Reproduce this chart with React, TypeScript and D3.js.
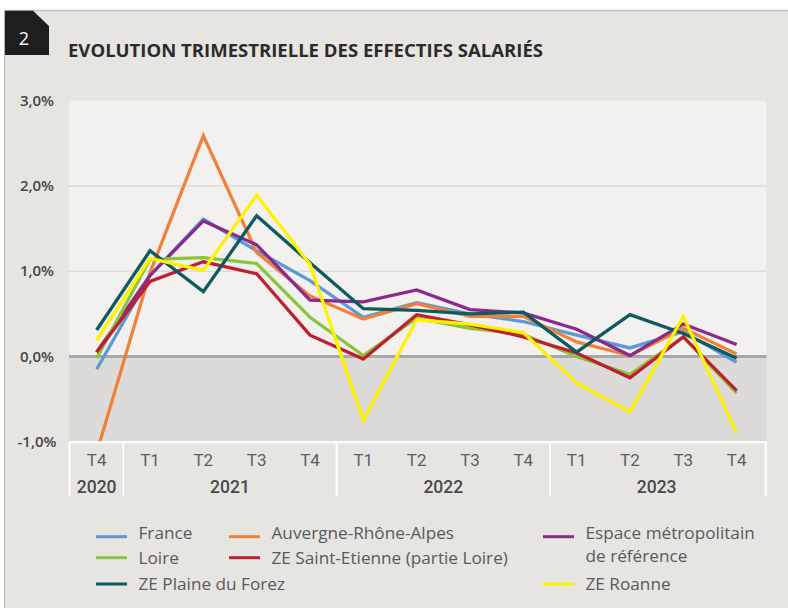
import React from "react";
import * as d3 from "d3";

const quarters = ["T4", "T1", "T2", "T3", "T4", "T1", "T2", "T3", "T4", "T1", "T2", "T3", "T4"];
const years = ["2020", "2021", "2022", "2023"];
const yearSpans = [1, 4, 4, 4];
const yTicks = [-1, 0, 1, 2, 3];

const france = [-0.15, 0.95, 1.61, 1.24, 0.89, 0.46, 0.63, 0.5, 0.41, 0.25, 0.1, 0.29, -0.07];
const auvergne = [-1.13, 0.98, 2.59, 1.22, 0.71, 0.44, 0.62, 0.47, 0.47, 0.17, 0.01, 0.33, 0.03];
const espace = [0.05, 0.95, 1.59, 1.31, 0.66, 0.64, 0.78, 0.55, 0.51, 0.32, 0.01, 0.38, 0.14];
const loire = [-0.02, 1.14, 1.16, 1.09, 0.46, 0.01, 0.45, 0.33, 0.26, 0.0, -0.21, 0.23, -0.43];
const saintEtienne = [0.05, 0.88, 1.11, 0.97, 0.25, -0.03, 0.49, 0.37, 0.23, 0.04, -0.25, 0.23, -0.4];
const plaine = [0.31, 1.24, 0.76, 1.65, 1.1, 0.56, 0.54, 0.5, 0.52, 0.05, 0.49, 0.27, -0.02];
const roanne = [0.19, 1.15, 1.01, 1.89, 1.08, -0.75, 0.43, 0.38, 0.28, -0.31, -0.65, 0.47, -0.9];

const seriesNames = [
  "France",
  "Auvergne-Rhône-Alpes",
  "Espace métropolitain de référence",
  "Loire",
  "ZE Saint-Etienne (partie Loire)",
  "ZE Plaine du Forez",
  "ZE Roanne",
];
const seriesValues = [france, auvergne, espace, loire, saintEtienne, plaine, roanne];
const seriesColors = ["#5b9bd5", "#f0813a", "#8b2a8c", "#8dc43f", "#c01f2f", "#0d5b5f", "#fff200"];
const legendLines = [
  ["France"],
  ["Auvergne-Rhône-Alpes"],
  ["Espace métropolitain", "de référence"],
  ["Loire"],
  ["ZE Saint-Etienne (partie Loire)"],
  ["ZE Plaine du Forez"],
  ["ZE Roanne"],
];

// layout (styling): legend column/row slot for each series
const legendSlots = [
  [0, 0],
  [1, 0],
  [2, 0],
  [0, 1],
  [1, 1],
  [0, 2],
  [2, 2],
];
const legendColX = [96, 229, 543];
const legendRowText = [539, 564, 590];
const legendRowSwatch = [536.7, 557.7, 584];

const W = 788;
const H = 608;
const plotL = 69;
const plotR = 766.5;
const plotT = 100.7;
const plotB = 441.7;

export default function App() {
  const x = d3.scaleBand<number>().domain(d3.range(quarters.length)).range([70, 763.3]).padding(0);
  const cx = (i: number) => (x(i) as number) + x.bandwidth() / 2;
  const y = d3.scaleLinear().domain([-1, 3]).range([plotB, plotT]);
  const line = d3
    .line<number>()
    .x((_, i) => cx(i))
    .y((v) => y(v));
  const fmt = (v: number) => d3.format(".1f")(v).replace(".", ",").replace("−", "-") + "%";

  let acc = 0;
  const yearBounds = yearSpans.map((s) => {
    const start = acc;
    acc += s;
    return [start, acc];
  });
  const edge = (i: number) =>
    i < quarters.length ? (x(i) as number) : (x(quarters.length - 1) as number) + x.bandwidth();

  return (
    <svg
      width={W}
      height={H}
      style={{ position: "absolute", left: 0, top: 0 }}
      fontFamily="'Open Sans', sans-serif"
    >
      <defs>
        <clipPath id="plotclip">
          <rect x={plotL} y={plotT} width={plotR - plotL} height={plotB - plotT} />
        </clipPath>
      </defs>
      <rect x={0} y={0} width={W} height={H} fill="#ffffff" />
      <rect x={4} y={10} width={W - 4} height={H - 10} fill="#e6e5e2" />
      <line x1={4} x2={W} y1={10.5} y2={10.5} stroke="#c3c3c3" strokeWidth={1.5} />
      <line x1={4.5} x2={4.5} y1={10} y2={H} stroke="#b5b5b5" strokeWidth={1} />

      {/* number box */}
      <path d="M5,10.7 L33,10.7 L49,26 L49,55 L5,55 Z" fill="#1e1e1e" />
      <text x={24} y={45} fill="#ffffff" fontSize={18} textAnchor="middle">
        2
      </text>
      <text
        x={68}
        y={56.7}
        fontSize={18}
        fontWeight={700}
        fill="#2b2b2b"
        textLength={475}
        lengthAdjust="spacingAndGlyphs"
      >
        EVOLUTION TRIMESTRIELLE DES EFFECTIFS SALARIÉS
      </text>

      {/* plot background */}
      <rect x={plotL} y={plotT} width={plotR - plotL} height={y(0) - plotT} fill="#f2f1ef" />
      <rect x={plotL} y={y(0)} width={plotR - plotL} height={plotB - y(0)} fill="#dcdbda" />
      {yTicks
        .filter((t) => t > 0 && t < 3)
        .map((t) => (
          <line key={t} x1={plotL} x2={plotR} y1={y(t)} y2={y(t)} stroke="#dcdbd9" strokeWidth={1.5} />
        ))}
      <line x1={plotL} x2={plotR} y1={y(0)} y2={y(0)} stroke="#a7a7a7" strokeWidth={3} />

      {/* y labels */}
      {yTicks.map((t) => (
        <text
          key={t}
          x={37}
          y={y(t)}
          dy="0.35em"
          textAnchor="middle"
          fontSize={15}
          fontWeight={600}
          fill="#454545"
        >
          {fmt(t)}
        </text>
      ))}

      {/* lines */}
      <g clipPath="url(#plotclip)">
        {seriesValues.map((vals, k) => (
          <path
            key={k}
            d={line(vals) || ""}
            fill="none"
            stroke={seriesColors[k]}
            strokeWidth={3.3}
            strokeLinejoin="miter"
          />
        ))}
      </g>

      {/* category table */}
      <line x1={plotL} x2={plotR} y1={plotB + 0.5} y2={plotB + 0.5} stroke="#ffffff" strokeWidth={2} />
      {[0, ...yearBounds.map((b) => b[1])].map((b, i) => {
        const xx = i === 0 ? plotL + 0.5 : edge(b) + (b === quarters.length ? 2.5 : 0);
        return <line key={i} x1={xx} x2={xx} y1={plotB} y2={496} stroke="#ffffff" strokeWidth={2} />;
      })}
      {quarters.map((q, i) => (
        <text
          key={i}
          x={cx(i)}
          y={465.7}
          textAnchor="middle"
          fontSize={17}
          fontFamily="Roboto, sans-serif"
          fill="#5e5e5e"
        >
          {q}
        </text>
      ))}
      {years.map((yr, i) => {
        const [s, e] = yearBounds[i];
        const mid = (edge(s) + edge(e)) / 2;
        return (
          <text
            key={yr}
            x={mid}
            y={493}
            textAnchor="middle"
            fontSize={17.5}
            fontWeight={500}
            fontFamily="Roboto, sans-serif"
            fill="#4a4a4a"
          >
            {yr}
          </text>
        );
      })}

      {/* legend */}
      {seriesNames.map((name, k) => {
        const [c, r] = legendSlots[k];
        const lx = legendColX[c];
        return (
          <g key={name}>
            <line
              x1={lx}
              x2={lx + 31}
              y1={legendRowSwatch[r]}
              y2={legendRowSwatch[r]}
              stroke={seriesColors[k]}
              strokeWidth={3}
            />
            {legendLines[k].map((t, j) => (
              <text key={j} x={lx + 42.5} y={legendRowText[r] + j * 23} fontSize={17.2} fill="#5a5a5a">
                {t}
              </text>
            ))}
          </g>
        );
      })}
    </svg>
  );
}
